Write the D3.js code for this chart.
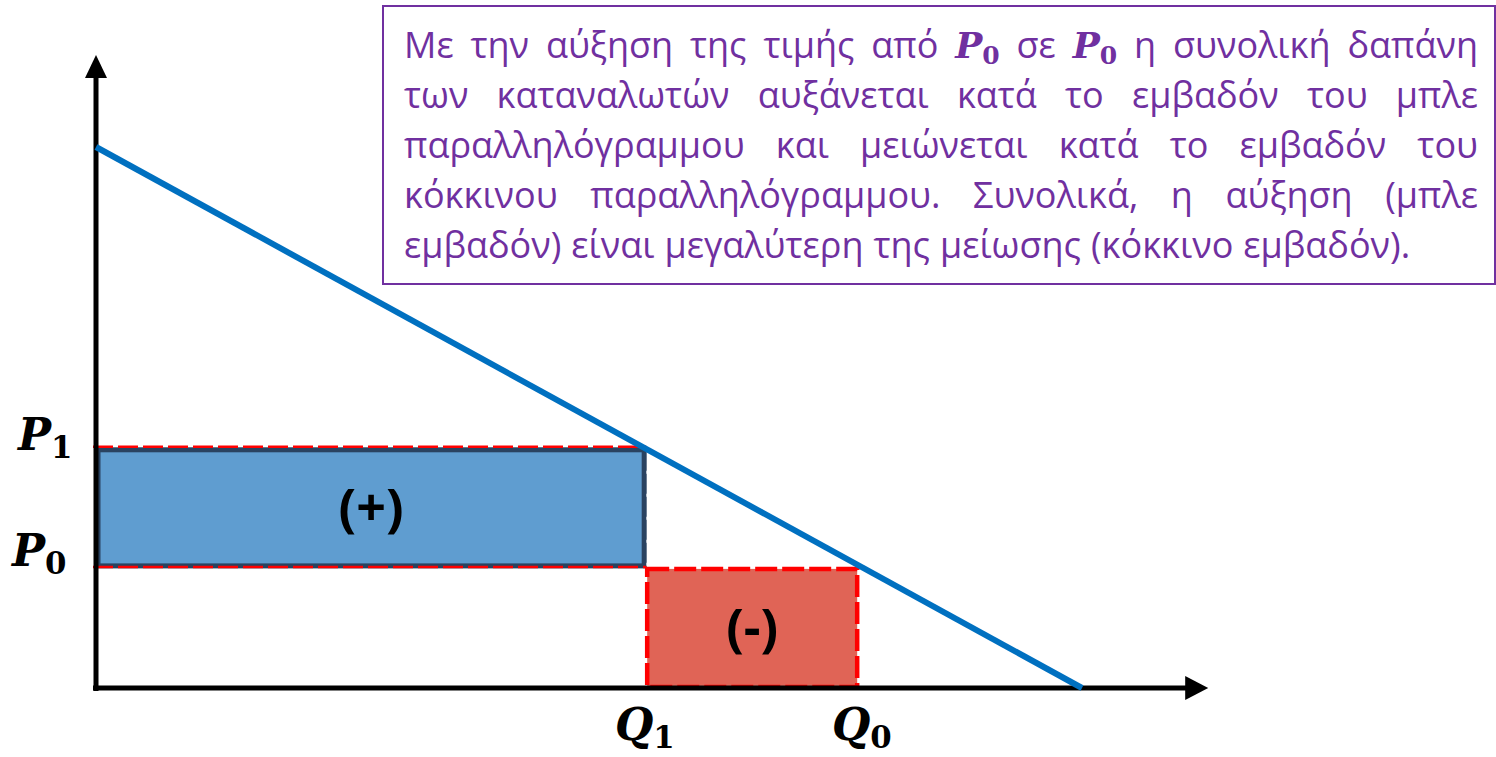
<!DOCTYPE html>
<html>
<head>
<meta charset="utf-8">
<script src="https://cdn.jsdelivr.net/npm/d3@7"></script>
<style>
  body { margin: 0; background: #fff; }
  svg { display: block; }
</style>
</head>
<body>
<div id="chart"></div>
<script>
// demand curve P = 100 - Q
const demand = [[0, 100], [100, 0]];
const prices = { P0: 22.2, P1: 44.4 };
const quantities = { Q0: 77.3, Q1: 55.8 };
const axisMax = { q: 112.8, p: 117 };
const noteLines = [
    ['Με', 'την', 'αύξηση', 'της', 'τιμής', 'από', '#P0', 'σε', '#P0', 'η', 'συνολική', 'δαπάνη'],
    ['των', 'καταναλωτών', 'αυξάνεται', 'κατά', 'το', 'εμβαδόν', 'του', 'μπλε'],
    ['παραλληλόγραμμου', 'και', 'μειώνεται', 'κατά', 'το', 'εμβαδόν', 'του'],
    ['κόκκινου', 'παραλληλόγραμμου.', 'Συνολικά,', 'η', 'αύξηση', '(μπλε'],
    ['εμβαδόν)', 'είναι', 'μεγαλύτερη', 'της', 'μείωσης', '(κόκκινο', 'εμβαδόν).']
];

const width = 1496, height = 757;
const purple = '#7030A0';
const mathFont = '"DejaVu Serif", "Liberation Serif", serif';
const sansFont = '"Open Sans", "Noto Sans", sans-serif';

const svg = d3.select('#chart').append('svg')
    .attr('width', width)
    .attr('height', height);

const x = d3.scaleLinear().domain([0, 100]).range([96, 1082]);
const y = d3.scaleLinear().domain([0, 100]).range([688, 147]);

// blue area (+)
svg.append('rect')
    .attr('x', x(0) + 2)
    .attr('y', y(prices.P1) + 2)
    .attr('width', x(quantities.Q1) - x(0) - 4)
    .attr('height', y(prices.P0) - y(prices.P1) - 4)
    .attr('fill', '#5f9dd0')
    .attr('stroke', '#2a4361')
    .attr('stroke-width', 5);

// dashed price guides
[prices.P1, prices.P0].forEach(function (p) {
    svg.append('line')
        .attr('x1', x(0) - 3).attr('x2', x(quantities.Q1))
        .attr('y1', y(p) - 1).attr('y2', y(p) - 1)
        .attr('stroke', '#ff0000')
        .attr('stroke-width', 2.5)
        .attr('stroke-dasharray', '20,5');
});
svg.append('line')
    .attr('x1', x(quantities.Q1) + 1).attr('x2', x(quantities.Q1) + 1)
    .attr('y1', y(prices.P1)).attr('y2', y(prices.P0))
    .attr('stroke', '#ffffff')
    .attr('stroke-width', 1.5)
    .attr('stroke-dasharray', '3,20');

// red area (-)
svg.append('rect')
    .attr('x', x(quantities.Q1) + 1)
    .attr('y', y(prices.P0) + 1)
    .attr('width', x(quantities.Q0) - x(quantities.Q1) - 2)
    .attr('height', y(0) - y(prices.P0) - 2)
    .attr('fill', '#e06456')
    .attr('stroke', '#ff0000')
    .attr('stroke-width', 4.5)
    .attr('stroke-dasharray', '22,5');

svg.append('text')
    .attr('x', (x(0) + x(quantities.Q1)) / 2)
    .attr('y', (y(prices.P0) + y(prices.P1)) / 2 + 18)
    .attr('text-anchor', 'middle')
    .attr('font-family', sansFont)
    .attr('font-weight', 'bold')
    .attr('font-size', 52)
    .text('(+)');

svg.append('text')
    .attr('x', (x(quantities.Q1) + x(quantities.Q0)) / 2)
    .attr('y', (y(0) + y(prices.P0)) / 2 + 18)
    .attr('text-anchor', 'middle')
    .attr('font-family', sansFont)
    .attr('font-weight', 'bold')
    .attr('font-size', 52)
    .text('(-)');

// axes
svg.append('line')
    .attr('x1', x(0)).attr('x2', x(0))
    .attr('y1', y(0) + 3).attr('y2', y(axisMax.p) + 20)
    .attr('stroke', '#000').attr('stroke-width', 5);
svg.append('path')
    .attr('d', 'M' + x(0) + ',' + y(axisMax.p) + ' l-11,23 l22,0 z')
    .attr('fill', '#000');

svg.append('line')
    .attr('x1', x(0) - 3).attr('x2', x(axisMax.q) - 20)
    .attr('y1', y(0)).attr('y2', y(0))
    .attr('stroke', '#000').attr('stroke-width', 5);
svg.append('path')
    .attr('d', 'M' + x(axisMax.q) + ',' + y(0) + ' l-23,-12 l0,24 z')
    .attr('fill', '#000');

// demand line
svg.append('path')
    .datum(demand)
    .attr('d', d3.line().x(d => x(d[0])).y(d => y(d[1])))
    .attr('fill', 'none')
    .attr('stroke', '#0070C0')
    .attr('stroke-width', 6);

// math labels
function mathLabel(g, name, sub, size) {
    const t = g.append('text')
        .attr('font-family', mathFont)
        .attr('font-weight', 'bold');
    t.append('tspan').attr('font-style', 'italic').attr('font-size', size).text(name);
    t.append('tspan').attr('font-size', size * 0.7).attr('dy', size * 0.18).text(sub);
    return t;
}

mathLabel(svg, 'P', '1', 44).attr('x', 18).attr('y', 450);
mathLabel(svg, 'P', '0', 44).attr('x', 12).attr('y', 566);
mathLabel(svg, 'Q', '1', 44).attr('x', 615).attr('y', 740);
mathLabel(svg, 'Q', '0', 44).attr('x', 832).attr('y', 740);

// note box
const box = { x: 383, y: 6, w: 1112, h: 278 };
svg.append('rect')
    .attr('x', box.x).attr('y', box.y)
    .attr('width', box.w).attr('height', box.h)
    .attr('fill', '#fff')
    .attr('stroke', purple)
    .attr('stroke-width', 2);

const textLeft = 404, textRight = 1478, lineH = 50, firstBase = 58;
const fontSize = 36;

noteLines.forEach(function (words, li) {
    const items = words.map(function (w) {
        let t;
        if (w.charAt(0) === '#') {
            t = svg.append('text').attr('fill', purple).attr('font-family', mathFont).attr('font-weight', 'bold');
            t.append('tspan').attr('font-style', 'italic').attr('font-size', 36).text('P');
            t.append('tspan').attr('font-size', 25).attr('dy', 6).text('0');
        } else {
            t = svg.append('text')
                .attr('fill', purple)
                .attr('font-family', sansFont)
                .attr('font-size', fontSize)
                .text(w);
        }
        t.attr('y', firstBase + li * lineH);
        return { node: t, w: t.node().getComputedTextLength() };
    });
    const total = d3.sum(items, d => d.w);
    const last = li === noteLines.length - 1;
    const gap = last ? 10 : (textRight - textLeft - total) / (items.length - 1);
    let cx = textLeft;
    items.forEach(function (it) {
        it.node.attr('x', cx);
        cx += it.w + gap;
    });
});
</script>
</body>
</html>
